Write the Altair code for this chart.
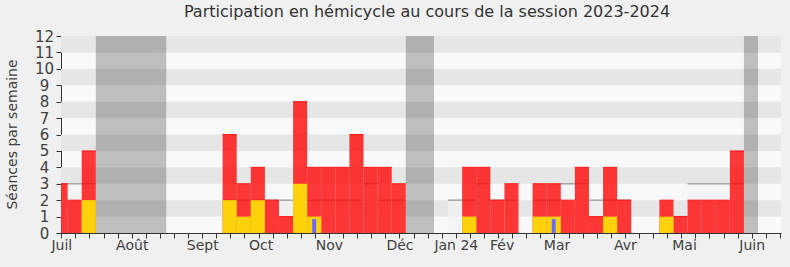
import altair as alt
import pandas as pd

# ---- data ----
weeks = list(range(52))
presences = [3, 2, 5, 0, 0, 0, 0, 0, 0, 0, 0, 0,
             6, 3, 4, 2, 1, 8, 4, 4, 4, 6, 4, 4, 3,
             0, 0, 0, 0,
             4, 4, 2, 3, 0, 3, 3, 2, 4, 1, 4, 2, 0, 0, 2, 1, 2, 2, 2, 5, 0, 0, 0]
interventions = [0, 0, 2, 0, 0, 0, 0, 0, 0, 0, 0, 0,
                 2, 1, 2, 0, 0, 3, 1, 0, 0, 0, 0, 0, 0,
                 0, 0, 0, 0,
                 1, 0, 0, 0, 0, 1, 1, 0, 0, 0, 1, 0, 0, 0, 1, 0, 0, 0, 0, 0, 0, 0, 0]
questions = [0, 0, 0, 0, 0, 0, 0, 0, 0, 0, 0, 0,
             0, 0, 0, 0, 0, 0, 0.85, 0, 0, 0, 0, 0, 0,
             0, 0, 0, 0,
             0, 0, 0, 0, 0, 0, 0.85, 0, 0, 0, 0, 0, 0, 0, 0, 0, 0, 0, 0, 0, 0, 0, 0]
mediane = [3, 3, 3, 0, 0, 0, 0, 0, 0, 0, 0, 0,
           2, 2, 2, 2, 2, 2, 2, 2, 2, 2, 3, 2, 2,
           0, 0, 0, 2,
           2, 3, 2, 2, 0, 2, 2, 3, 3, 2, 2, 2, 0, 0, 1, 1, 3, 3, 3, 3, 0, 0, 0]
vacances = [3, 4, 5, 6, 7, 25, 26, 49]
mois = ["Juil", "Août", "Sept", "Oct", "Nov", "Déc", "Jan 24", "Fév", "Mar", "Avr", "Mai", "Juin"]
mois_pos = [0, 5, 10, 14.15, 19, 24, 28, 31.25, 35.15, 40, 44.2, 49]
y_ticks = list(range(13))
stripe_lo = [1, 3, 5, 7, 9, 11]

df = pd.DataFrame({
    "week": weeks,
    "presence": presences,
    "interv": interventions,
    "quest": questions,
    "med": mediane,
})
df["vac"] = [12 if w in vacances else 0 for w in weeks]
stripes = pd.DataFrame({"lo": stripe_lo})
stripes["hi"] = stripes["lo"] + 1

FONT = "DejaVu Sans"
xscale = alt.Scale(domain=[-0.02, 51.08], nice=False, zero=False)
yscale = alt.Scale(domain=[0, 12], nice=False, zero=False)

base = alt.Chart(df).transform_calculate(
    x0="datum.week - 0.55", x1="datum.week + 0.45",
    q0="datum.week - 0.19", q1="datum.week + 0.09",
)

y_axis = alt.Axis(
    values=y_ticks, tickSize=5, grid=False, domainColor="#333333", tickColor="#333333",
    labelFontSize=15, labelColor="#404040", labelFont=FONT, labelPadding=12,
    labelAlign="center",
    title="Séances par semaine", titleFont=FONT, titleFontSize=14, titleFontWeight="normal",
    titleColor="#404040", titleX=-49, titleY=98, titleAngle=-90,
    titleAlign="center", titleBaseline="middle",
)


def X(field, axis=None):
    return alt.X(field, type="quantitative", scale=xscale, axis=axis)


def Y(field):
    return alt.Y(field, type="quantitative", scale=yscale, axis=y_axis)


stripe_layer = alt.Chart(stripes).mark_rect(color="#e6e6e6").encode(
    x=alt.value(0), x2=alt.value(720),
    y=Y("lo:Q"), y2="hi:Q",
)

med_area = base.transform_filter("datum.med > 0").mark_rect(
    color="#f2f2f2", opacity=0.75, clip=True
).encode(x=X("x0:Q"), x2="x1:Q", y=Y("med:Q"), y2=alt.datum(0))

med_line = base.transform_filter("datum.med > 0").mark_rule(
    color="#a6a6a6", strokeWidth=1.5, clip=True
).encode(x=X("x0:Q"), x2="x1:Q", y=Y("med:Q"))

vac_layer = base.transform_filter("datum.vac > 0").mark_rect(
    color="#191919", opacity=0.263, clip=True
).encode(x=X("x0:Q"), x2="x1:Q", y=Y("vac:Q"), y2=alt.datum(0))

x_tick_axis = alt.Axis(
    values=weeks, labels=False, tickSize=5, grid=False, domainColor="#333333",
    tickColor="#333333", title=None, orient="bottom",
)
x_label_axis = alt.Axis(
    values=mois_pos, ticks=False, domain=False, grid=False, orient="bottom", title=None,
    labelExpr="[" + ",".join('"%s"' % m for m in mois) + "][indexof(["
              + ",".join(str(p) for p in mois_pos) + "], datum.value)]",
    labelFontSize=14, labelColor="#404040", labelFont=FONT, labelPadding=5,
    labelOverlap=False, labelBound=False, labelFlush=False,
)
x_top_axis = alt.Axis(
    values=weeks, labels=False, tickSize=2, domain=False, grid=False, orient="top",
    tickColor="#111111", title=None, offset=-2,
)

red_layer = base.transform_filter("datum.presence > 0").mark_rect(
    color="#ff0000", opacity=0.78, clip=True
).encode(x=X("x0:Q", x_tick_axis), x2="x1:Q", y=Y("presence:Q"), y2=alt.datum(0))

red_top = base.transform_filter("datum.presence > 0").mark_rule(
    color="#ff1a1a", strokeWidth=1, clip=True
).encode(x=X("x0:Q"), x2="x1:Q", y=Y("presence:Q"))

yellow_layer = base.transform_filter("datum.interv > 0").mark_rect(
    color="#ffd20c", clip=True
).encode(x=X("x0:Q", x_label_axis), x2="x1:Q", y=Y("interv:Q"), y2=alt.datum(0))

blue_layer = base.transform_filter("datum.quest > 0").mark_rect(
    color="#6b6bff", clip=True
).encode(x=X("q0:Q", x_top_axis), x2="q1:Q", y=Y("quest:Q"), y2=alt.datum(0))

chart = alt.layer(
    stripe_layer, med_area, med_line, vac_layer, red_layer, red_top, yellow_layer, blue_layer
).resolve_axis(x="independent").properties(
    width=720, height=197,
    autosize=alt.AutoSizeParams(type="none"),
    padding={"left": 61, "top": 36, "right": 9, "bottom": 34},
    background="#f0f0f0",
    title=alt.TitleParams(
        "Participation en hémicycle au cours de la session 2023-2024",
        font=FONT, fontSize=16, fontWeight="normal", color="#333333",
        anchor="middle", offset=9, dx=6,
    ),
).configure_view(fill="#f9f9f9", stroke=None)

chart.save("out.html", embed_options={"renderer": "svg", "actions": False})
